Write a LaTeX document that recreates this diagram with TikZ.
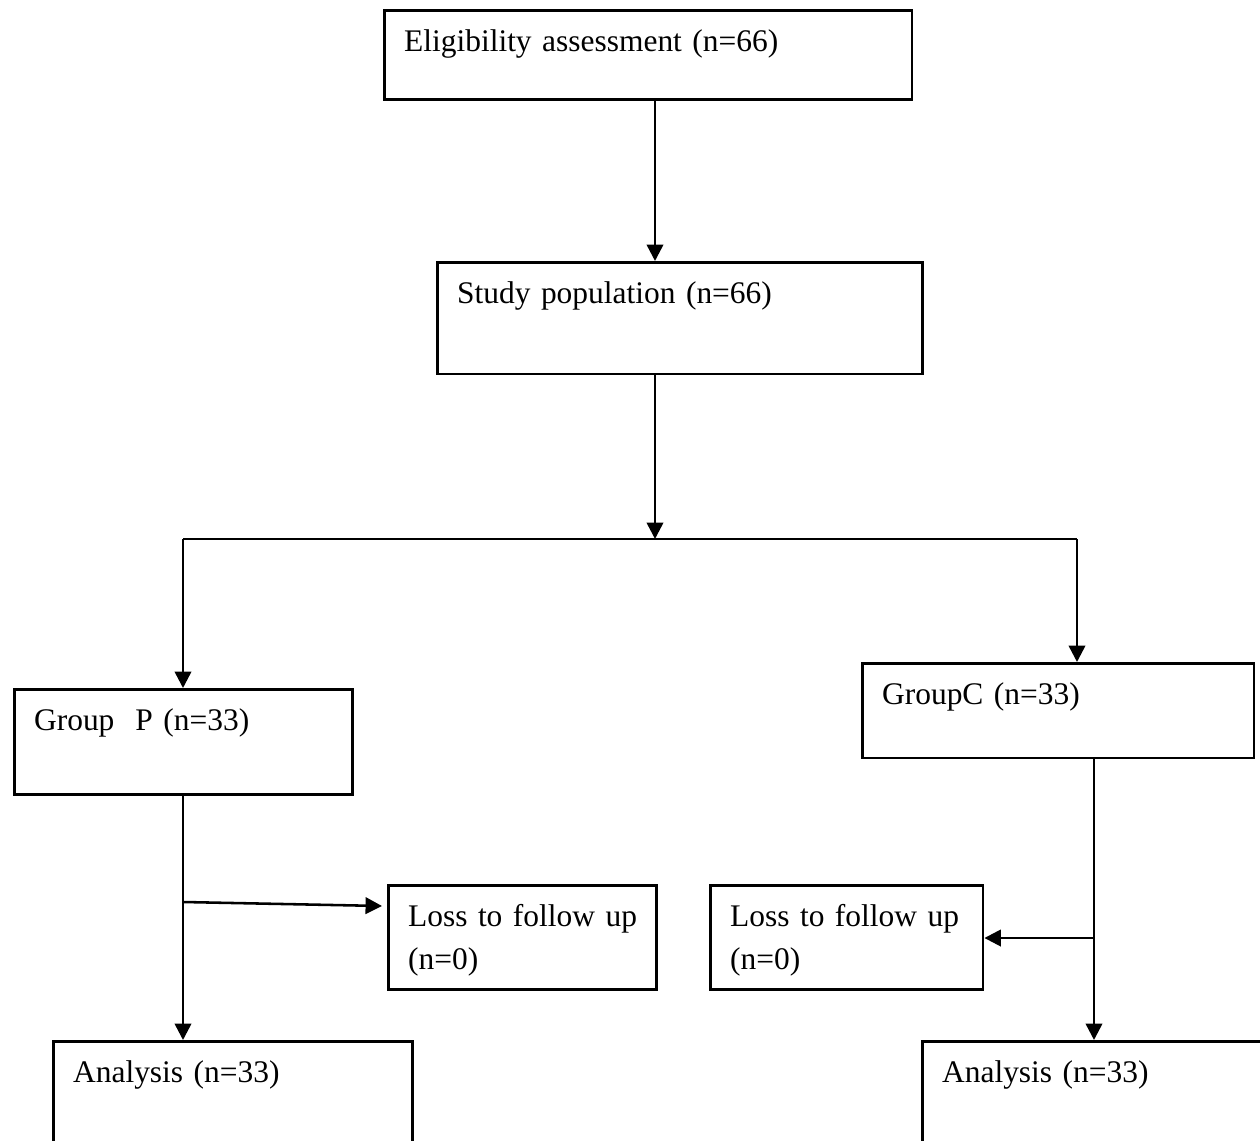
\documentclass[tikz,border=0pt]{standalone}
\usepackage{fontspec}
\setmainfont{Liberation Serif}
\usetikzlibrary{arrows.meta,calc}
\tikzset{
  box/.style 2 args={draw, line width=0.9pt, anchor=north west, align=left,
    inner xsep=7pt, inner ysep=0pt, text width=#1, text height=14.5pt, text depth=#2,
    font=\fontsize{11.1}{15.2}\selectfont},
  arr/.style={line width=0.9pt, -{Triangle[length=5.8pt,width=5.8pt]}},
  link/.style={line width=0.9pt}
}
\begin{document}
\begin{tikzpicture}[x=0.3529pt,y=-0.3529pt]
\clip (0,0) rectangle (1260,1141);
\node[box={172.3pt}{16.9pt}] (elig) at (383,9) {Eligibility assessment (n=66)};
\node[box={157.2pt}{25.0pt}] (study) at (436,261) {Study population (n=66)};
\node[box={105.3pt}{22.6pt}] (grpP) at (13,688) {Group\ \ P (n=33)};
\node[box={124.3pt}{19.0pt}] (grpC) at (861,662) {GroupC (n=33)};
\node[box={80.6pt}{22.2pt}] (lossP) at (387,884) {\mbox{Loss to follow up}\\(n=0)};
\node[box={82.3pt}{22.2pt}] (lossC) at (709,884) {\mbox{Loss to follow up}\\(n=0)};
\node[box={112.7pt}{38.4pt}] (anaP) at (52,1040) {Analysis (n=33)};
\node[box={127.2pt}{38.4pt}] (anaC) at (921,1040) {Analysis (n=33)};

\coordinate (split) at (655,539);
\coordinate (splitP) at (183,539);
\coordinate (splitC) at (1077,539);
\coordinate (brP) at (183,902);
\coordinate (brC) at (1094,938);

\draw[arr] (elig.south -| split) -- (study.north -| split);
\draw[arr] (study.south -| split) -- (split);
\draw[link] (splitP) -- (splitC);
\draw[arr] (splitP) -- (grpP.north -| splitP);
\draw[arr] (splitC) -- (grpC.north -| splitC);
\draw[arr] (grpP.south -| brP) -- (anaP.north -| brP);
\draw[arr] (brP) -- ($(lossP.north west)+(-5,22)$);
\draw[link] (grpC.south -| brC) -- (brC);
\draw[arr] (brC) -- (anaC.north -| brC);
\draw[arr] (brC) -- (lossC.east |- brC);
\end{tikzpicture}
\end{document}
